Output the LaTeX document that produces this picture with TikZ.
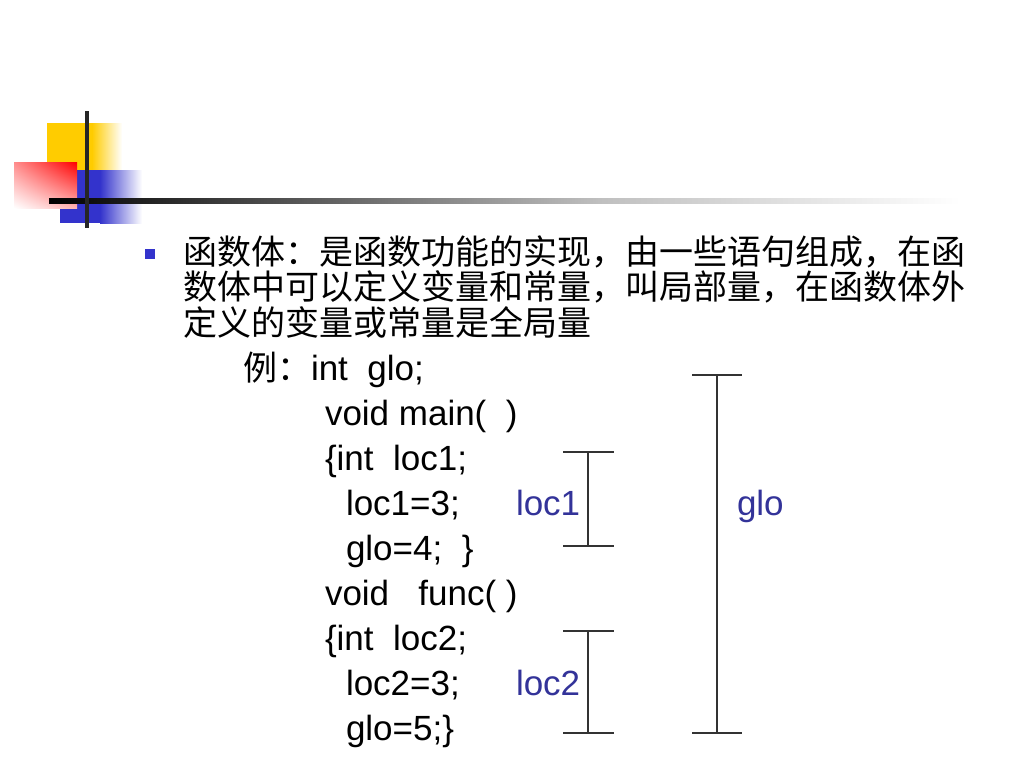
\documentclass[tikz,border=0pt]{standalone}
\usepackage{fontspec}
\setmainfont{Liberation Sans}
\newfontfamily\cjk{Noto Sans CJK SC}
\usetikzlibrary{positioning,shadings}
\definecolor{labelblue}{RGB}{51,51,153}
\definecolor{markblue}{RGB}{51,51,204}
\definecolor{logoyellow}{RGB}{255,204,0}
\tikzset{%
  font=\fontsize{35}{36}\selectfont,
  txt/.style={anchor=base west,inner sep=0pt,outer sep=0pt},
  cn/.style={txt,font=\fontsize{34}{36}\selectfont\cjk},
  lbl/.style={txt,text=labelblue},
  span/.style={draw=black!80,line width=1.3pt}
}
\begin{document}
\begin{tikzpicture}[x=1pt,y=-1pt,%
                    bul/.style={fill=markblue,minimum size=10pt,inner sep=0pt}]
  \useasboundingbox (0,0) rectangle (1024,768);
  % logo
  \fill[logoyellow] (47,123) rectangle (92,172);
  \shade[left color=logoyellow,right color=white] (92,123) rectangle (122,172);
  \fill[markblue] (60,170) rectangle (100,223);
  \shade[left color=markblue,right color=white] (100,170) rectangle (142,223);
  \shade[upper left=red!45,upper right=red,lower left=white,lower right=red!30] (14,162) rectangle (77,208);
  \shade[left color=black,right color=black!25] (49,198.5) rectangle (600,203.5);
  \shade[left color=black!25,right color=white] (600,198.5) rectangle (960,203.5);
  \draw[line width=4pt,black!85] (87,111) -- (87,228);
  % text
  \node[bul] (mark) at (150,254) {};
  \node[cn] (line1) at (183,264) {函数体：是函数功能的实现，由一些语句组成，在函};
  \node[cn] (line2) at (183,299) {数体中可以定义变量和常量，叫局部量，在函数体外};
  \node[cn] (line3) at (183,335) {定义的变量或常量是全局量};
  \node[txt] (ex) at (243,380) {{\fontsize{34}{36}\selectfont\cjk 例：}int\ \ glo;};
  \node[txt] (mainhd) at (325,425) {void main(\ \ )};
  \node[txt] (maindecl) at (325,470) {\{int\ \ loc1;};
  \node[txt] (mainset) at (346,515) {loc1=3;};
  \node[txt] (mainglo) at (346,560) {glo=4;\ \ \}};
  \node[txt] (funchd) at (325,605) {void\ \ \ func(\ )};
  \node[txt] (funcdecl) at (325,650) {\{int\ \ loc2;};
  \node[txt] (funcset) at (346,695) {loc2=3;};
  \node[txt] (funcglo) at (346,740) {glo=5;\}};
  \node[lbl] (loc1) at (516,515) {loc1};
  \node[lbl] (loc2) at (516,695) {loc2};
  \node[lbl] (glo) at (737,515) {glo};
  % scopes
  \coordinate (l1top) at (588,452);
  \coordinate (l1bot) at (588,546);
  \coordinate (l2top) at (588,631);
  \coordinate (l2bot) at (588,733);
  \coordinate (gtop) at (717,375);
  \coordinate (gbot) at (717,733);
  \draw[span] (l1top) -- (l1bot);
  \draw[span] ([xshift=-25pt]l1top) -- ([xshift=26pt]l1top);
  \draw[span] ([xshift=-25pt]l1bot) -- ([xshift=26pt]l1bot);
  \draw[span] (l2top) -- (l2bot);
  \draw[span] ([xshift=-25pt]l2top) -- ([xshift=26pt]l2top);
  \draw[span] ([xshift=-25pt]l2bot) -- ([xshift=26pt]l2bot);
  \draw[span] (gtop) -- (gbot);
  \draw[span] ([xshift=-25pt]gtop) -- ([xshift=25pt]gtop);
  \draw[span] ([xshift=-25pt]gbot) -- ([xshift=25pt]gbot);
\end{tikzpicture}
\end{document}
